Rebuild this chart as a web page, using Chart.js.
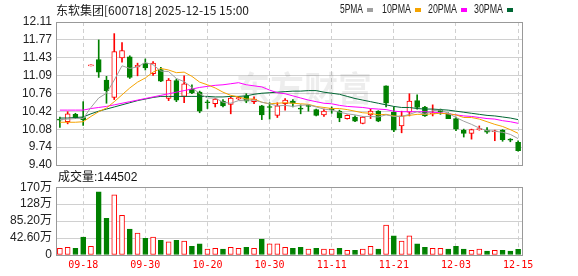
<!DOCTYPE html>
<html>
<head>
<meta charset="utf-8">
<script src="https://cdn.jsdelivr.net/npm/chart.js@4.4.0/dist/chart.umd.min.js"></script>
<style>
html, body { margin: 0; padding: 0; background: #fff; }
#wrap { position: relative; width: 578px; height: 276px; overflow: hidden; }
#priceChart { position: absolute; left: 0; top: 0; }
#volChart { position: absolute; left: 0; top: 176px; }
</style>
</head>
<body>
<div id="wrap">
  <canvas id="priceChart" width="578" height="186"></canvas>
  <canvas id="volChart" width="578" height="100"></canvas>
</div>
<script>
// trading days shown (MM-DD)
const dates = [
  '09-15','09-16','09-17','09-18','09-19','09-22','09-23','09-24','09-25','09-26','09-29','09-30',
  '10-09','10-10','10-13','10-14','10-15','10-16','10-17','10-20','10-21','10-22','10-23','10-24',
  '10-27','10-28','10-29','10-30','10-31',
  '11-03','11-04','11-05','11-06','11-07','11-10','11-11','11-12','11-13','11-14','11-17','11-18',
  '11-19','11-20','11-21','11-24','11-25','11-26','11-27','11-28',
  '12-01','12-02','12-03','12-04','12-05','12-08','12-09','12-10','12-11','12-12','12-15'
];

const opens = [
  10.25,10.22,10.36,10.30,11.28,11.40,11.01,10.68,11.43,11.45,11.26,11.33,11.13,11.21,10.66,
  11.00,10.70,10.84,10.78,10.58,10.56,10.61,10.55,10.65,10.71,10.60,10.52,10.49,10.34,10.56,
  10.61,10.46,10.51,10.45,10.35,10.45,10.42,10.28,10.31,10.19,10.35,10.42,10.90,10.40,10.14,
  10.40,10.62,10.50,10.37,10.44,10.37,10.28,10.06,10.00,10.07,10.06,10.03,10.06,9.87,9.83
];
const highs = [
  10.31,10.41,10.38,10.60,11.29,11.77,11.08,11.89,11.72,11.47,11.33,11.41,11.36,11.25,11.04,
  11.03,11.09,10.92,10.80,10.63,10.66,10.64,10.69,10.70,10.75,10.69,10.53,10.58,10.58,10.66,
  10.64,10.54,10.54,10.46,10.46,10.50,10.44,10.35,10.33,10.32,10.46,10.43,10.90,10.50,10.42,
  10.75,10.73,10.51,10.54,10.46,10.39,10.31,10.08,10.08,10.14,10.11,10.06,10.07,9.90,9.86
];
const lows = [
  10.11,10.18,10.28,10.15,11.28,11.06,10.57,10.64,11.35,11.04,11.09,11.20,11.10,10.98,10.62,
  10.60,10.58,10.75,10.39,10.47,10.50,10.50,10.37,10.64,10.58,10.56,10.26,10.27,10.30,10.44,
  10.50,10.37,10.42,10.33,10.32,10.38,10.22,10.27,10.22,10.18,10.28,10.22,10.50,10.03,10.01,
  10.33,10.46,10.32,10.33,10.36,10.28,10.05,9.93,9.89,10.06,10.00,9.86,9.85,9.84,9.66
];
const closes = [
  10.25,10.37,10.29,10.26,11.29,11.16,10.81,11.55,11.57,11.06,11.29,11.24,11.33,10.99,11.01,
  10.63,10.94,10.77,10.42,10.58,10.65,10.52,10.67,10.68,10.61,10.65,10.35,10.49,10.52,10.63,
  10.57,10.46,10.51,10.34,10.42,10.45,10.29,10.34,10.23,10.31,10.42,10.23,10.57,10.06,10.33,
  10.61,10.49,10.33,10.39,10.40,10.28,10.08,10.00,10.07,10.09,10.02,10.04,9.88,9.87,9.67
];

const ma5 = [
  10.26,10.27,10.28,10.28,10.49,10.67,10.76,11.01,11.28,11.23,11.26,11.34,11.30,11.18,11.17,
  11.04,10.98,10.87,10.75,10.67,10.67,10.59,10.57,10.62,10.63,10.63,10.59,10.56,10.52,10.53,
  10.51,10.53,10.54,10.50,10.46,10.44,10.40,10.37,10.35,10.32,10.32,10.31,10.35,10.32,10.32,
  10.36,10.41,10.36,10.43,10.44,10.38,10.30,10.23,10.17,10.10,10.05,10.04,10.02,9.98,9.90
];
const ma10 = [
  10.21,10.21,10.21,10.22,10.32,10.41,10.48,10.60,10.73,10.86,10.97,11.05,11.16,11.23,11.20,
  11.15,11.16,11.08,10.97,10.92,10.86,10.78,10.72,10.69,10.65,10.65,10.59,10.56,10.57,10.58,
  10.57,10.56,10.55,10.51,10.49,10.47,10.47,10.45,10.42,10.39,10.38,10.35,10.36,10.33,10.32,
  10.34,10.36,10.36,10.37,10.38,10.37,10.35,10.30,10.30,10.27,10.22,10.17,10.13,10.07,10.00
];
const ma20 = [
  10.44,10.44,10.44,10.44,10.47,10.49,10.51,10.54,10.57,10.60,10.63,10.66,10.69,10.72,10.75,
  10.78,10.81,10.84,10.87,10.89,10.91,10.92,10.94,10.96,10.92,10.90,10.88,10.82,10.77,10.75,
  10.71,10.67,10.63,10.60,10.57,10.56,10.53,10.51,10.50,10.49,10.47,10.46,10.45,10.42,10.41,
  10.41,10.41,10.41,10.40,10.39,10.37,10.35,10.33,10.32,10.30,10.28,10.27,10.24,10.22,10.19
];
const ma30 = [
  10.29,10.29,10.30,10.31,10.37,10.42,10.46,10.50,10.54,10.58,10.62,10.65,10.68,10.70,10.70,
  10.70,10.70,10.70,10.70,10.70,10.69,10.69,10.70,10.70,10.71,10.74,10.76,10.77,10.78,10.79,
  10.80,10.80,10.81,10.81,10.78,10.76,10.74,10.70,10.66,10.63,10.60,10.57,10.54,10.51,10.49,
  10.49,10.47,10.46,10.46,10.45,10.44,10.42,10.40,10.38,10.36,10.34,10.33,10.31,10.29,10.26
];

// volume in 万 (10k shares)
const volumes = [
  17,19,17,45,22,159,92,151,100,65,55,42,45,37,33,
  37,35,22,28,15,17,15,19,17,19,17,40,28,28,19,
  17,19,15,17,15,15,17,12,12,15,22,15,75,48,35,
  48,28,19,17,17,15,22,15,12,15,10,12,12,10,14.4502
];

const priceTickLabels = ['9.40','9.74','10.08','10.42','10.76','11.09','11.43','11.77','12.11'];
const volTickLabels = ['0','42.60万','85.20万','128万','170万'];
const xTickDates = ['09-18','09-30','10-20','10-30','11-11','11-21','12-03','12-15'];

const PRICE_MIN = 9.40, PRICE_MAX = 12.11, VOL_MAX = 170.4;
const RED = '#ff0000', GREEN = '#008000';
const GRID = '#d0d0d0', FRAME = '#999999';
const MA_COLORS = ['#a0a0a0', '#f5a300', '#ff00ff', '#006633'];

Chart.defaults.font.family = '"Liberation Sans", "Noto Sans CJK SC", sans-serif';
Chart.defaults.font.size = 12;
Chart.defaults.color = '#222';

const candleUp = closes.map((c, i) => c > opens[i]);
const volUp = closes.map((c, i) => i === 0 || c >= closes[i - 1]);

const isLabelDay = (i) => xTickDates.includes(dates[i]);

// gray frame around the plot area
const framePlugin = {
  id: 'frame',
  afterDraw(chart) {
    const { ctx, chartArea: a } = chart;
    ctx.save();
    ctx.strokeStyle = FRAME;
    ctx.lineWidth = 1;
    ctx.strokeRect(Math.round(a.left) + 0.5, Math.round(a.top) + 0.5,
                   Math.round(a.right - a.left), Math.round(a.bottom - a.top));
    ctx.restore();
  }
};

const priceText = {
  id: 'priceText',
  beforeDatasetsDraw(chart) {
    const { ctx } = chart;
    ctx.save();
    ctx.fillStyle = 'rgba(0,0,0,0.07)';
    ctx.font = 'bold 34px "Noto Sans CJK SC"';
    ctx.textBaseline = 'middle';
    ctx.fillText('东方财富', 236, 88);
    ctx.restore();
  },
  afterDraw(chart) {
    const { ctx } = chart;
    ctx.save();
    ctx.fillStyle = '#222';
    ctx.textBaseline = 'middle';
    ctx.font = '12px "Noto Sans CJK SC"';
    ctx.fillText('东软集团[600718] 2025-12-15 15:00', 56, 10, 198);

    const legend = [['5PMA', 340, 23], ['10PMA', 382, 29], ['20PMA', 428, 29], ['30PMA', 474, 29]];
    const boxes = [367, 415, 461, 507];
    ctx.font = '12px "Liberation Sans"';
    legend.forEach(([t, x, w], k) => {
      ctx.fillStyle = '#222';
      ctx.fillText(t, x, 10, w);
      ctx.fillStyle = MA_COLORS[k];
      ctx.fillRect(boxes[k], 8, 6, 4);
    });

    ctx.fillStyle = '#111';
    ctx.font = '12px "Liberation Sans", "Noto Sans CJK SC"';
    ctx.fillText('成交量:144502', 58, 178);
    ctx.restore();
  }
};

const xGrid = {
  offset: false,
  drawTicks: false,
  color: (c) => isLabelDay(c.index) ? GRID : 'rgba(0,0,0,0)'
};

new Chart(document.getElementById('priceChart'), {
  data: {
    labels: dates,
    datasets: [
      ...[ma5, ma10, ma20, ma30].map((d, k) => ({
        type: 'line', data: d, borderColor: MA_COLORS[k], borderWidth: 1,
        pointRadius: 0, tension: 0, order: 0
      })),
      {
        type: 'bar', order: 1, grouped: false,
        data: opens.map((o, i) => [o, closes[i]]),
        barThickness: 5, minBarLength: 1, borderWidth: 1, borderSkipped: false,
        borderColor: candleUp.map(u => u ? RED : GREEN),
        backgroundColor: candleUp.map(u => u ? '#ffffff' : GREEN)
      },
      {
        type: 'bar', order: 2, grouped: false,
        data: lows.map((l, i) => [l, highs[i]]),
        barThickness: 1, minBarLength: 1, borderWidth: 0,
        backgroundColor: candleUp.map(u => u ? RED : GREEN)
      }
    ]
  },
  options: {
    responsive: false,
    animation: false,
    layout: { padding: { left: 0, right: 56, top: 22, bottom: 21 } },
    plugins: { legend: { display: false }, tooltip: { enabled: false } },
    scales: {
      x: {
        ticks: { display: false, autoSkip: false },
        grid: xGrid,
        border: { display: false, dash: [4, 3] },
        afterFit: (s) => { s.height = 0; }
      },
      y: {
        min: PRICE_MIN, max: PRICE_MAX,
        afterBuildTicks: (s) => {
          s.ticks = priceTickLabels.map((_, k) => ({ value: PRICE_MIN + k * (PRICE_MAX - PRICE_MIN) / 8 }));
        },
        ticks: { padding: 4, autoSkip: false, callback: (v, i) => priceTickLabels[i], color: '#222' },
        grid: { color: GRID, drawTicks: false },
        border: { display: false },
        afterFit: (s) => { s.width = 56; }
      }
    }
  },
  plugins: [priceText, framePlugin]
});

new Chart(document.getElementById('volChart'), {
  type: 'bar',
  data: {
    labels: dates,
    datasets: [{
      data: volumes,
      barThickness: 5, borderWidth: 1, borderSkipped: false,
      borderColor: volUp.map(u => u ? RED : GREEN),
      backgroundColor: volUp.map(u => u ? '#ffffff' : GREEN)
    }]
  },
  options: {
    responsive: false,
    animation: false,
    layout: { padding: { left: 0, right: 56, top: 10, bottom: 0 } },
    plugins: { legend: { display: false }, tooltip: { enabled: false } },
    scales: {
      x: {
        ticks: {
          autoSkip: false, maxRotation: 0, minRotation: 0, padding: 4,
          color: RED, font: { family: '"DejaVu Sans Mono"', size: 10 },
          callback: (v, i) => isLabelDay(i) ? dates[i] : ''
        },
        grid: xGrid,
        border: { display: false, dash: [4, 3] },
        afterFit: (s) => { s.height = 21; }
      },
      y: {
        min: 0, max: VOL_MAX,
        afterBuildTicks: (s) => {
          s.ticks = volTickLabels.map((_, k) => ({ value: k * VOL_MAX / 4 }));
        },
        ticks: { padding: 4, autoSkip: false, callback: (v, i) => volTickLabels[i], color: '#222' },
        grid: { color: GRID, drawTicks: false },
        border: { display: false },
        afterFit: (s) => { s.width = 56; }
      }
    }
  },
  plugins: [framePlugin]
});
</script>
</body>
</html>
